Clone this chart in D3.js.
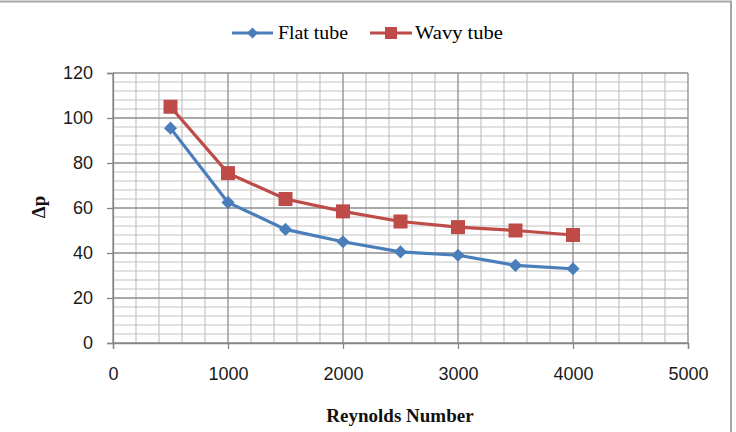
<!DOCTYPE html>
<html>
<head>
    <meta charset="utf-8">
    <title>Flat vs wavy tube</title>
    <style>
        body { margin: 0; background: #fff; }
        svg { display: block; }
    </style>
</head>
<body>
    <script src="https://d3js.org/d3.v7.min.js"></script>
    <script>
    // data
    const reynolds = [500, 1000, 1500, 2000, 2500, 3000, 3500, 4000];
    const flatTube = [95.5, 62.5, 50.5, 45, 40.5, 39, 34.5, 33];
    const wavyTube = [105, 75.5, 64, 58.5, 54, 51.5, 50, 48];
    const xTicks = [0, 1000, 2000, 3000, 4000, 5000];
    const yTicks = [0, 20, 40, 60, 80, 100, 120];
    const seriesNames = ["Flat tube", "Wavy tube"];

    const width = 736, height = 432;
    const plotLeft = 113, plotRight = 688, plotTop = 73, plotBottom = 343;

    var x = d3.scaleLinear().domain([0, 5000]).range([plotLeft, plotRight]);
    var y = d3.scaleLinear().domain([0, 120]).range([plotBottom, plotTop]);

    var svg = d3.select("body").append("svg")
        .attr("width", width)
        .attr("height", height);

    // outer chart border
    svg.append("rect")
        .attr("x", -2).attr("y", 1.5)
        .attr("width", 733).attr("height", 440)
        .attr("fill", "none")
        .attr("stroke", "#a6a6a6")
        .attr("stroke-width", 2);

    // minor grid
    var grid = svg.append("g");
    grid.selectAll(".vminor")
        .data(d3.range(0, 5001, 200).filter(d => d % 1000 != 0))
        .enter().append("line")
        .attr("x1", d => x(d)).attr("x2", d => x(d))
        .attr("y1", plotTop).attr("y2", plotBottom)
        .attr("stroke", "#c4c4c4").attr("stroke-width", 1.2);
    grid.selectAll(".hminor")
        .data(d3.range(0, 121, 4).filter(d => d % 20 != 0))
        .enter().append("line")
        .attr("x1", plotLeft).attr("x2", plotRight)
        .attr("y1", d => y(d)).attr("y2", d => y(d))
        .attr("stroke", "#c4c4c4").attr("stroke-width", 1.2);

    // major grid
    grid.selectAll(".vmajor")
        .data(xTicks)
        .enter().append("line")
        .attr("x1", d => x(d)).attr("x2", d => x(d))
        .attr("y1", plotTop).attr("y2", plotBottom)
        .attr("stroke", "#8c8c8c").attr("stroke-width", 1.3);
    grid.selectAll(".hmajor")
        .data(yTicks)
        .enter().append("line")
        .attr("x1", plotLeft).attr("x2", plotRight)
        .attr("y1", d => y(d)).attr("y2", d => y(d))
        .attr("stroke", "#8c8c8c").attr("stroke-width", 1.3);

    // axes
    var xAxis = svg.append("g")
        .attr("transform", "translate(0," + plotBottom + ")")
        .call(d3.axisBottom(x).tickValues(xTicks).tickSize(6).tickPadding(18).tickFormat(d3.format("d")));
    var yAxis = svg.append("g")
        .attr("transform", "translate(" + plotLeft + ",0)")
        .call(d3.axisLeft(y).tickValues(yTicks).tickSize(6).tickPadding(14));

    [xAxis, yAxis].forEach(function(a) {
        a.selectAll("path, line").attr("stroke", "#868686").attr("stroke-width", 1.3);
        a.selectAll("text")
            .attr("fill", "#1a1a1a")
            .style("font-family", "'Liberation Sans', Arial, sans-serif")
            .style("font-size", "18px");
    });

    // series
    var line = d3.line()
        .x((d, i) => x(reynolds[i]))
        .y(d => y(d));

    svg.append("path")
        .datum(flatTube)
        .attr("d", line)
        .attr("fill", "none")
        .attr("stroke", "#4a7ebb")
        .attr("stroke-width", 3.2);
    svg.append("path")
        .datum(wavyTube)
        .attr("d", line)
        .attr("fill", "none")
        .attr("stroke", "#be4b48")
        .attr("stroke-width", 3.2);

    var diamond = d3.symbol().type(d3.symbolDiamond2).size(110);
    svg.selectAll(".flat")
        .data(flatTube)
        .enter().append("path")
        .attr("d", diamond)
        .attr("transform", (d, i) => "translate(" + x(reynolds[i]) + "," + y(d) + ")")
        .attr("fill", "#4a7ebb");

    svg.selectAll(".wavy")
        .data(wavyTube)
        .enter().append("rect")
        .attr("x", (d, i) => x(reynolds[i]) - 7)
        .attr("y", d => y(d) - 7)
        .attr("width", 14).attr("height", 14)
        .attr("fill", "#be4b48");

    // legend
    var legend = svg.append("g")
        .style("font-family", "'Liberation Serif', 'Times New Roman', serif")
        .style("font-size", "18px");
    var lg1 = legend.append("g").attr("transform", "translate(232,33)");
    lg1.append("line").attr("x1", 0).attr("x2", 41)
        .attr("stroke", "#4a7ebb").attr("stroke-width", 3.2);
    lg1.append("path").attr("d", d3.symbol().type(d3.symbolDiamond2).size(80))
        .attr("transform", "translate(20.5,0)").attr("fill", "#4a7ebb");
    lg1.append("text").attr("x", 46).attr("y", 6)
        .attr("textLength", 70).attr("lengthAdjust", "spacingAndGlyphs")
        .text(seriesNames[0]);

    var lg2 = legend.append("g").attr("transform", "translate(370,33)");
    lg2.append("line").attr("x1", 0).attr("x2", 42)
        .attr("stroke", "#be4b48").attr("stroke-width", 3.2);
    lg2.append("rect").attr("x", 15).attr("y", -6).attr("width", 12).attr("height", 12)
        .attr("fill", "#be4b48");
    lg2.append("text").attr("x", 45).attr("y", 6)
        .attr("textLength", 88).attr("lengthAdjust", "spacingAndGlyphs")
        .text(seriesNames[1]);

    // axis titles
    svg.append("text")
        .attr("x", 400).attr("y", 422)
        .attr("text-anchor", "middle")
        .style("font-family", "'Liberation Serif', 'Times New Roman', serif")
        .style("font-weight", "bold")
        .style("font-size", "19px")
        .attr("fill", "#111")
        .text("Reynolds Number");

    svg.append("text")
        .attr("transform", "translate(45,207) rotate(-90)")
        .attr("text-anchor", "middle")
        .style("font-family", "'Liberation Serif', 'Times New Roman', serif")
        .style("font-weight", "bold")
        .style("font-size", "19px")
        .attr("fill", "#111")
        .text("Δp");
    </script>
</body>
</html>
